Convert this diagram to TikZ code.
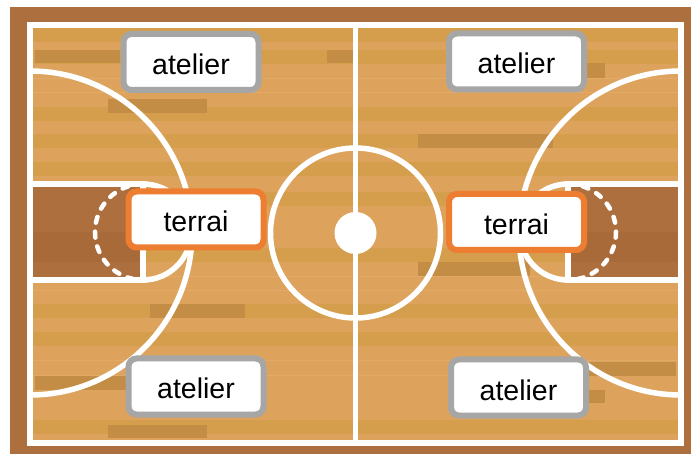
\documentclass[tikz,border=0pt]{standalone}
\usepackage{fontspec}
\setmainfont{Liberation Sans}
\definecolor{frame}{HTML}{AD6F3E}
\definecolor{lanefill}{HTML}{AD6F3E}
\definecolor{lanedark}{HTML}{A96A3A}
\definecolor{plank}{HTML}{DDA35C}
\definecolor{plankmid}{HTML}{D49E4D}
\definecolor{plankdark}{HTML}{C48D45}
\definecolor{seam}{HTML}{E1AA68}
\definecolor{boxgray}{HTML}{A6A6A6}
\definecolor{boxorange}{HTML}{ED7D31}
\begin{document}
\begin{tikzpicture}[x=1pt,y=-1pt,
  courtline/.style={white, line width=5.5pt},
  dashline/.style={white, line width=4.5pt, line cap=round, dash pattern=on 6pt off 9pt},
  tagbox/.style={fill=white, rounded corners=8pt, line width=6pt,
    minimum width=135pt, minimum height=56pt, inner sep=0pt,
    text height=25pt, text depth=0pt,
    font=\fontsize{28.5}{32}\selectfont, text=black},
  atelierbox/.style={tagbox, draw=boxgray},
  terraibox/.style={tagbox, draw=boxorange}]
  % page and wooden frame
  \fill[white] (0,0) rectangle (691,454);
  \fill[frame] (10,7) rectangle (691,454);
  % floor planks
  \fill[plank] (30,25) rectangle (681,443);
  \foreach \y in {28,50,107,134,162,192,248,304,332,420}
    \fill[plankmid] (33,\y) rectangle (678,\y+14);
  \foreach \y in {78,92,276,290,360,375}
    \fill[seam] (33,\y) rectangle (678,\y+1);
  % darker plank segments
  \foreach \xa/\ya/\xb/\yb in {35/50/120/63, 108/99/207/113, 327/50/353/63,
      418/134/553/148, 583/63/605/78, 418/262/530/276, 150/304/245/318,
      35/376/127/390, 108/425/207/438, 588/362/676/376, 588/390/605/403}
    \fill[plankdark] (\xa,\ya) rectangle (\xb,\yb);
  % painted lanes
  \fill[lanefill] (30,184) rectangle (143,280);
  \fill[lanefill] (568,184) rectangle (681,280);
  \fill[lanedark] (33,232) rectangle (143,262);
  \fill[lanedark] (568,232) rectangle (678,262);
  % boundary and half-court line
  \draw[courtline] (30,25) rectangle (681,443);
  \draw[courtline] (355.5,25) -- (355.5,443);
  % centre circle and spot
  \draw[courtline] (355.5,233) circle[radius=85];
  \fill[white] (355.5,233) circle[radius=21];
  % three-point arcs
  \draw[courtline] (30,71) arc[start angle=-90, end angle=90, radius=162];
  \draw[courtline] (681,71) arc[start angle=-90, end angle=-270, radius=162];
  % lanes
  \draw[courtline] (30,184) -- (143,184) -- (143,280) -- (30,280);
  \draw[courtline] (681,184) -- (568,184) -- (568,280) -- (681,280);
  % free-throw circles
  \draw[courtline] (143,184) arc[start angle=-90, end angle=90, radius=48];
  \draw[dashline] (143,184) arc[start angle=-90, end angle=-270, radius=48];
  \draw[courtline] (568,184) arc[start angle=-90, end angle=-270, radius=48];
  \draw[dashline] (568,184) arc[start angle=-90, end angle=90, radius=48];
  % labels
  \node[atelierbox] (atl1) at (191,62) {atelier};
  \node[atelierbox] (atl2) at (516.5,61.5) {atelier};
  \node[atelierbox] (atl3) at (196,386.5) {atelier};
  \node[atelierbox] (atl4) at (518.5,387.5) {atelier};
  \node[terraibox] (ter1) at (196,219.5) {terrai};
  \node[terraibox] (ter2) at (516.5,222) {terrai};
\end{tikzpicture}
\end{document}
